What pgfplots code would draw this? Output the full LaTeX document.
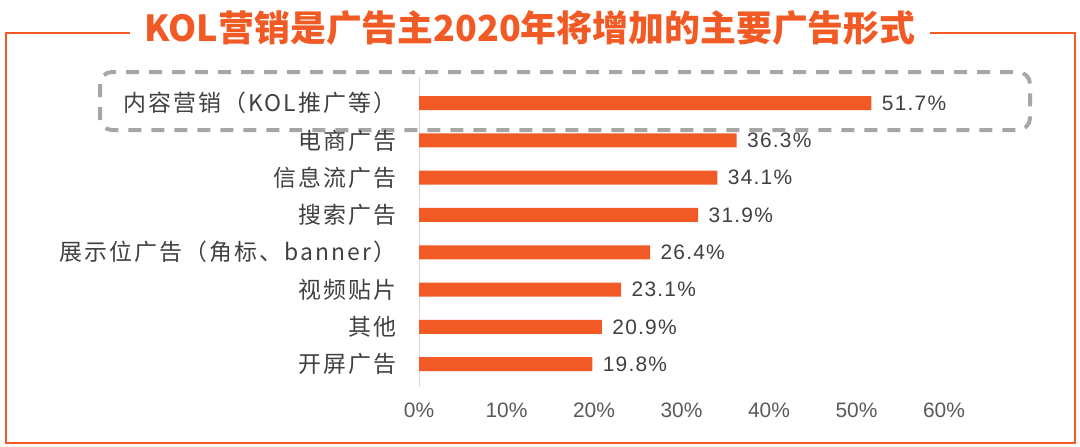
\documentclass[border=0pt]{standalone}
\usepackage{fontspec}
\setmainfont{Noto Sans CJK SC}
\newfontfamily\cjkwide[LetterSpace=9]{Noto Sans CJK SC}
\newfontfamily\lib{Liberation Sans}
\newfontfamily\libwide[LetterSpace=6]{Liberation Sans}
\usepackage{pgfplots}
\pgfplotsset{compat=1.18}
\definecolor{kolorange}{HTML}{F15A24}
\definecolor{dashgray}{HTML}{A6A6A6}
\definecolor{txt}{HTML}{404040}
\definecolor{ticktxt}{HTML}{595959}
\definecolor{axgray}{HTML}{D9D9D9}

\begin{document}
\begin{tikzpicture}
\path[use as bounding box] (0,0) rectangle (1080bp,-447bp);
% frame and title
\draw[kolorange, line width=2bp] (6bp,-33bp) rectangle (1075bp,-443bp);
\node[fill=white, inner xsep=15bp, inner ysep=2bp, text=kolorange,
      font=\fontsize{36}{40}\selectfont\bfseries] at (530bp,-28bp)
      {KOL营销是广告主2020年将增加的主要广告形式};
% highlight box round the first row
\draw[dashgray, line width=4bp, dash pattern=on 13bp off 10bp, rounded corners=12bp]
      (100bp,-72bp) rectangle (1030bp,-130bp);
\begin{axis}[
  at={(419bp,-77bp)}, anchor=north west,
  scale only axis, width=525bp, height=309.5bp,
  xbar, bar width=14bp,
  xmin=0, xmax=60, ymin=-0.7, ymax=7.6, y dir=reverse,
  ytick={0,...,7},
  yticklabels={内容营销（KOL推广等）,电商广告,信息流广告,搜索广告,展示位广告（角标、banner）,视频贴片,其他,开屏广告},
  xtick={0,10,...,60},
  xticklabel={\pgfmathprintnumber{\tick}\%},
  /pgf/number format/assume math mode=true,
  axis lines*=left,
  x axis line style={draw=none},
  y axis line style={draw=axgray, line width=1bp},
  tick style={draw=none},
  xticklabel style={font=\fontsize{21}{24}\selectfont\lib, text=ticktxt, yshift=-13bp},
  yticklabel style={font=\fontsize{23}{26}\selectfont\cjkwide, text=txt, xshift=-15bp},
  point meta=x,
  nodes near coords={\pgfmathprintnumber[fixed,precision=1,fixed zerofill]{\pgfplotspointmeta}\%},
  nodes near coords style={font=\fontsize{21}{24}\selectfont\libwide, text=txt, anchor=west, xshift=7bp},
  clip=false,
]
\addplot[draw=none, fill=kolorange] coordinates {
  (51.7,0) (36.3,1) (34.1,2) (31.9,3) (26.4,4) (23.1,5) (20.9,6) (19.8,7)
};
\end{axis}
\end{tikzpicture}
\end{document}
